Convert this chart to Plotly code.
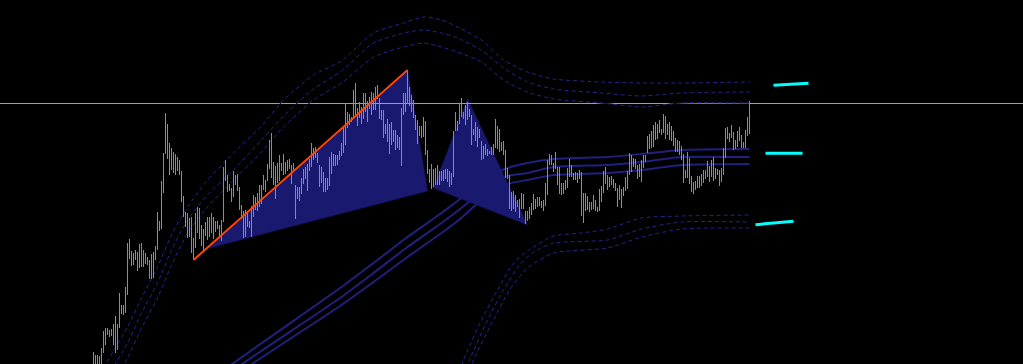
import plotly.graph_objects as go

# ---------------- price bars (high / low per bar) ----------------
highs = [
    12, 9, 9, 8, 16, 33, 36, 36, 34, 35,
    40, 48, 40, 71, 59, 59, 77, 121, 125, 113,
    111, 114, 112, 120, 121, 114, 111, 107, 104, 110,
    112, 118, 152, 143, 183, 211, 251, 240, 221, 216,
    212, 210, 207, 204, 193, 168, 152, 151, 146, 147,
    126, 151, 157, 156, 139,
    135, 142, 147, 147, 151, 147, 143, 143, 139, 144,
    197, 204, 189, 180, 176, 193, 189, 190, 177, 159,
    153, 154, 151, 143, 158, 169, 167, 171, 179, 179,
    189, 184, 200, 224, 231, 202, 198, 201, 209, 201,
    210, 202, 204, 205, 199, 201, 179, 177, 177, 186,
    195, 197, 200, 205,
    221, 216, 217, 211, 199, 197, 192, 186, 186, 207,
    212, 210, 209, 209, 213, 221, 236, 261, 252, 250,
    247, 274, 281, 256, 262, 257, 271, 271, 263, 267,
    272, 271, 277, 279, 266, 254, 254, 240, 245, 240,
    242, 234, 234, 229, 227, 256, 271, 271, 294, 277,
    269, 264, 249, 244, 238, 238,
    247, 243, 214, 195, 200, 195, 196, 199, 193, 193,
    194, 195, 195, 193, 191, 233, 252, 243, 261, 266,
    252, 259, 262, 255, 249, 235, 242, 237, 235, 223,
    218, 220, 215, 213, 217, 220, 245, 238, 235, 222,
    223, 214, 196, 189, 172, 173, 169, 164, 165, 171,
    170, 153, 153, 157, 161,
    170, 165, 167, 167, 163, 164, 181, 204, 210, 209,
    201, 212, 197, 197, 181, 181, 184, 196, 205, 199,
    191, 192, 191, 194, 192, 171, 171, 168, 162, 162,
    169, 164, 157, 175, 178, 193, 197, 189, 187, 188,
    185, 181, 176, 179, 175, 177, 187, 193, 211, 209,
    206, 205, 199, 200, 204,
    209, 209, 228, 230, 233, 239, 242, 240, 244, 235,
    250, 248, 240, 242, 238, 233, 226, 224, 223, 218,
    210, 194, 212, 206, 188, 182, 183, 188, 188, 190,
    194, 194, 203, 198, 204, 207, 196, 195, 194, 196,
    216, 236, 237, 231, 239, 232, 224, 233, 237, 229,
    222, 234, 247, 263,
]
lows = [
    -4, -4, -4, -4, -2, 11, 19, 29, 27, 28,
    19, 11, 14, 36, 50, 49, 51, 69, 105, 98,
    99, 104, 93, 96, 97, 97, 100, 99, 85, 85,
    86, 104, 114, 133, 135, 171, 210, 205, 189, 194,
    191, 189, 193, 189, 162, 147, 137, 126, 127, 111,
    104, 116, 131, 125, 118,
    113, 128, 124, 127, 131, 125, 132, 135, 128, 123,
    142, 183, 172, 173, 162, 167, 179, 173, 154, 145,
    126, 127, 137, 136, 127, 147, 154, 153, 157, 160,
    174, 172, 183, 195, 186, 179, 165, 181, 183, 193,
    189, 190, 193, 195, 180, 193, 145, 165, 163, 170,
    180, 185, 173, 193,
    197, 204, 206, 201, 177, 181, 172, 172, 174, 178,
    190, 198, 198, 199, 204, 208, 211, 219, 236, 239,
    242, 246, 249, 238, 246, 240, 245, 252, 242, 255,
    249, 254, 254, 265, 245, 244, 226, 230, 222, 210,
    219, 222, 214, 216, 214, 198, 249, 252, 260, 258,
    252, 246, 234, 220, 228, 226,
    227, 209, 190, 181, 175, 177, 179, 179, 179, 183,
    183, 185, 182, 177, 179, 187, 233, 233, 240, 247,
    245, 239, 244, 247, 219, 229, 223, 217, 226, 204,
    205, 209, 208, 210, 209, 209, 216, 215, 212, 213,
    209, 186, 185, 155, 153, 155, 152, 157, 146, 155,
    155, 140, 143, 145, 149,
    154, 155, 157, 158, 156, 153, 158, 169, 199, 199,
    192, 195, 179, 170, 169, 170, 174, 176, 187, 187,
    184, 184, 181, 185, 148, 141, 153, 154, 152, 154,
    155, 153, 152, 153, 162, 171, 180, 174, 177, 179,
    176, 173, 157, 164, 156, 168, 173, 175, 189, 192,
    197, 195, 185, 187, 182,
    196, 202, 211, 215, 216, 217, 224, 225, 231, 229,
    231, 225, 229, 224, 223, 218, 212, 212, 209, 204,
    181, 186, 186, 180, 172, 170, 174, 176, 176, 178,
    181, 185, 187, 182, 187, 183, 185, 189, 178, 182,
    189, 206, 225, 222, 226, 214, 215, 217, 223, 216,
    216, 216, 228, 230,
]

# ---------------- upper envelope (3 dashed lines) ----------------
upper_idx = [3, 17, 24, 32, 39, 47, 57, 70, 84, 95, 110, 124, 140, 155, 165,
             174, 182, 194, 205, 217, 230, 254, 274, 294, 328]
upper1 = [-10, 37, 66, 97, 129, 157, 184, 211, 238, 264, 289, 303, 331, 341, 347,
          344, 337, 324, 304, 292, 285, 282, 281, 281, 282]
upper2 = [-26, 21, 51, 81, 114, 144, 169, 194, 224, 248, 275, 293, 321, 331, 334,
          331, 326, 314, 296, 282, 275, 271, 268, 271, 272]
upper3 = [-41, 6, 36, 66, 99, 131, 157, 184, 212, 237, 264, 281, 307, 317, 321,
          317, 312, 302, 284, 272, 265, 261, 257, 261, 261]

# ---------------- lower envelope (3 dashed lines) ----------------
lower1_idx = [183, 185, 194, 202, 210, 217, 230, 244, 257, 274, 294, 328]
lower1 = [-8, 4, 44, 74, 101, 113, 128, 131, 135, 146, 148, 149]
lower2_idx = [185, 188, 197, 205, 213, 220, 230, 257, 274, 294, 328]
lower2 = [-11, 4, 44, 74, 99, 112, 121, 124, 135, 142, 142]
lower3_idx = [188, 190, 200, 208, 217, 230, 257, 274, 294, 328]
lower3 = [-13, 4, 44, 74, 96, 111, 116, 127, 135, 136]

# ---------------- middle band (3 solid lines) ----------------
band1_idx = [64, 70, 124, 140, 157, 174, 182, 190, 198, 207, 217, 230, 257, 274, 294, 328]
band1 = [-8, 1, 77, 101, 127, 151, 163, 175, 188, 196, 201, 205, 207, 210, 214, 215]
band2_idx = [69, 75, 124, 140, 157, 174, 182, 190, 198, 207, 217, 230, 257, 274, 294, 328]
band2 = [-8, 1, 67, 91, 117, 141, 153, 166, 179, 188, 191, 197, 199, 202, 207, 207]
band3_idx = [74, 80, 124, 140, 157, 174, 182, 190, 198, 207, 217, 230, 257, 274, 294, 328]
band3 = [-8, 1, 59, 82, 107, 131, 143, 157, 170, 180, 184, 189, 191, 194, 199, 200]

# ---------------- harmonic pattern ----------------
tri1_idx = [56, 157, 167]
tri1_price = [115, 294, 173]
tri2_idx = [170, 187, 217]
tri2_price = [176, 265, 139]
xa_idx = [50, 157]
xa_price = [104, 294]

# ---------------- projection marks (cyan) ----------------
proj_idx_start = [340, 336, 331]
proj_idx_end = [357.5, 354.5, 350]
proj_price_start = [278.7, 210.7, 139.3]
proj_price_end = [280.7, 210.7, 142.7]

hline_price = 260.5

BG = "#000000"
BAR_COL = "#32cd32"
FILL_COL = "#191970"
BAND_COL = "#20207e"
DASH_COL = "#25258e"

fig = go.Figure()

# middle bands (drawn under pattern)
for bi, bv in [(band1_idx, band1), (band2_idx, band2), (band3_idx, band3)]:
    fig.add_trace(go.Scatter(x=bi, y=bv, mode="lines",
                             line=dict(color=BAND_COL, width=2, shape="spline", smoothing=0.6),
                             hoverinfo="skip"))

# pattern triangles
for tx, ty in [(tri1_idx, tri1_price), (tri2_idx, tri2_price)]:
    fig.add_trace(go.Scatter(x=tx + [tx[0]], y=ty + [ty[0]], mode="lines", fill="toself",
                             fillcolor=FILL_COL, line=dict(color=FILL_COL, width=0.5),
                             hoverinfo="skip"))

# horizontal price line
fig.add_trace(go.Scatter(x=[-60, 480], y=[hline_price, hline_price], mode="lines",
                         line=dict(color="#a0a0a0", width=1), hoverinfo="skip"))

# envelopes: black underlay + dashed line
env_series = [(upper_idx, upper1), (upper_idx, upper2), (upper_idx, upper3),
              (lower1_idx, lower1), (lower2_idx, lower2), (lower3_idx, lower3)]
for ei, ev in env_series:
    fig.add_trace(go.Scatter(x=ei, y=ev, mode="lines",
                             line=dict(color=BG, width=1, shape="spline", smoothing=0.6),
                             hoverinfo="skip"))
    fig.add_trace(go.Scatter(x=ei, y=ev, mode="lines",
                             line=dict(color=DASH_COL, width=1, dash="4px,3px",
                                       shape="spline", smoothing=0.6),
                             hoverinfo="skip"))

# price bars as vertical high-low lines
bx, by = [], []
for i, (h, l) in enumerate(zip(highs, lows)):
    bx += [i, i, None]
    by += [l, h, None]
fig.add_trace(go.Scatter(x=bx, y=by, mode="lines", line=dict(color=BAR_COL, width=1),
                         hoverinfo="skip"))

# XA leg
fig.add_trace(go.Scatter(x=xa_idx, y=xa_price, mode="lines",
                         line=dict(color="#ff4500", width=2), hoverinfo="skip"))

# projections
for x0, x1, y0, y1 in zip(proj_idx_start, proj_idx_end, proj_price_start, proj_price_end):
    fig.add_trace(go.Scatter(x=[x0, x1], y=[y0, y1], mode="lines",
                             line=dict(color="#00ffff", width=3), hoverinfo="skip"))

fig.update_layout(
    width=1023, height=364,
    margin=dict(l=0, r=0, t=0, b=0, pad=0),
    paper_bgcolor=BG, plot_bgcolor=BG,
    showlegend=False,
    xaxis=dict(range=[-46.75, 464.75], visible=False, showgrid=False, zeroline=False),
    yaxis=dict(range=[0, 364], visible=False, showgrid=False, zeroline=False),
)

fig.write_html("out.html", config={"displayModeBar": False})
